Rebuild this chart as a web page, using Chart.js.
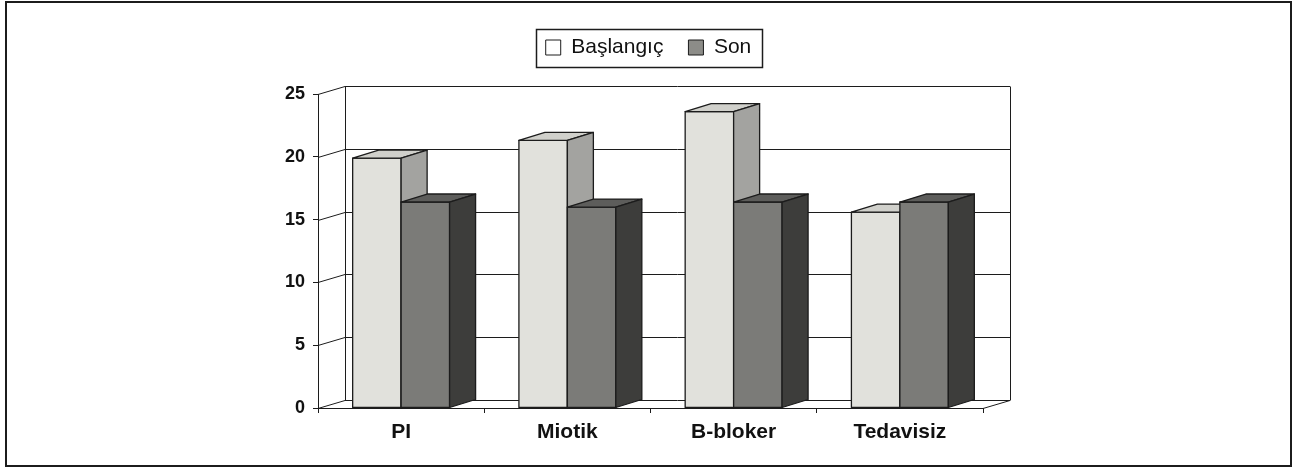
<!DOCTYPE html>
<html>
<head>
<meta charset="utf-8">
<script src="https://cdn.jsdelivr.net/npm/chart.js@4"></script>
<style>
  html, body { margin: 0; padding: 0; background: #fff; }
  #wrap { width: 1297px; height: 469px; }
</style>
</head>
<body>
<div id="wrap"><canvas id="chart" width="1297" height="469"></canvas></div>
<script>
var categories = ['PI', 'Miotik', 'B-bloker', 'Tedavisiz'];
var seriesNames = ['Başlangıç', 'Son'];
var baslangic = [19.9, 21.3, 23.6, 15.6];
var son = [16.4, 16.0, 16.4, 16.4];
var yTicks = [0, 5, 10, 15, 20, 25];

// face colours: front, top, side
var faces = [
    { front: '#e1e1dc', top: '#d0d0cb', side: '#a3a3a0' },
    { front: '#7b7b78', top: '#5d5d5b', side: '#3d3d3b' }
];
var WALL_DX = 27, WALL_DY = -8;
var BAR_DX = 26, BAR_DY = -8;
var LINE = '#1c1c1c';

var wallPlugin = {
    id: 'wall',
    beforeDatasetsDraw: function(chart) {
        var ctx = chart.ctx, a = chart.chartArea, y = chart.scales.y;
        ctx.save();
        ctx.strokeStyle = LINE;
        ctx.lineWidth = 1;
        yTicks.forEach(function(v) {
            var py = Math.round(y.getPixelForValue(v)) + 0.5;
            ctx.beginPath();
            ctx.moveTo(a.left, py);
            ctx.lineTo(a.left + WALL_DX, py + WALL_DY);
            ctx.lineTo(a.right + WALL_DX, py + WALL_DY);
            ctx.stroke();
        });
        var top = Math.round(y.getPixelForValue(25)) + 0.5 + WALL_DY;
        var bot = Math.round(y.getPixelForValue(0)) + 0.5 + WALL_DY;
        ctx.beginPath();
        ctx.moveTo(a.left + WALL_DX + 0.5, top);
        ctx.lineTo(a.left + WALL_DX + 0.5, bot);
        ctx.moveTo(a.right + WALL_DX + 0.5, top);
        ctx.lineTo(a.right + WALL_DX + 0.5, bot);
        ctx.moveTo(a.right, a.bottom + 0.5);
        ctx.lineTo(a.right + WALL_DX, bot);
        ctx.stroke();
        ctx.restore();
    }
};

function poly(ctx, pts, fill) {
    ctx.beginPath();
    ctx.moveTo(pts[0][0], pts[0][1]);
    for (var i = 1; i < pts.length; i++) ctx.lineTo(pts[i][0], pts[i][1]);
    ctx.closePath();
    ctx.fillStyle = fill;
    ctx.fill();
    ctx.stroke();
}

var boxPlugin = {
    id: 'box3d',
    afterDatasetsDraw: function(chart) {
        var ctx = chart.ctx;
        ctx.save();
        ctx.strokeStyle = LINE;
        ctx.lineWidth = 1.3;
        ctx.lineJoin = 'round';
        for (var i = 0; i < categories.length; i++) {
            for (var d = 0; d < chart.data.datasets.length; d++) {
                var bar = chart.getDatasetMeta(d).data[i];
                var p = bar.getProps(['x', 'y', 'base', 'width'], true);
                var l = p.x - p.width / 2, r = p.x + p.width / 2;
                var t = p.y, b = p.base;
                var f = faces[d];
                poly(ctx, [[l, t], [r, t], [r, b], [l, b]], f.front);
                poly(ctx, [[l, t], [l + BAR_DX, t + BAR_DY], [r + BAR_DX, t + BAR_DY], [r, t]], f.top);
                poly(ctx, [[r, t], [r + BAR_DX, t + BAR_DY], [r + BAR_DX, b + BAR_DY], [r, b]], f.side);
            }
        }
        ctx.restore();
    },
    afterDraw: function(chart) {
        var ctx = chart.ctx;
        ctx.save();
        ctx.strokeStyle = LINE;
        // legend frame
        var hb = chart.legend.legendHitBoxes;
        if (hb && hb.length) {
            var l = Math.min.apply(null, hb.map(function(h) { return h.left; }));
            var r = Math.max.apply(null, hb.map(function(h) { return h.left + h.width; }));
            var t = hb[0].top, h = hb[0].height;
            ctx.lineWidth = 1.5;
            ctx.strokeRect(Math.round(l - 10) + 0.5, Math.round(t - 8) + 0.5, Math.round(r - l + 20), Math.round(h + 17));
        }
        // outer frame
        ctx.lineWidth = 2;
        ctx.strokeRect(6, 2, 1285, 464);
        ctx.restore();
    }
};

var ctx = document.getElementById('chart');
var chart = new Chart(ctx, {
    type: 'bar',
    data: {
        labels: categories,
        datasets: [
            {
                label: seriesNames[0],
                data: baslangic,
                backgroundColor: faces[0].front,
                borderColor: LINE,
                borderWidth: 0,
                categoryPercentage: 0.583,
                barPercentage: 1.0
            },
            {
                label: seriesNames[1],
                data: son,
                backgroundColor: faces[1].front,
                borderColor: LINE,
                borderWidth: 0,
                categoryPercentage: 0.583,
                barPercentage: 1.0
            }
        ]
    },
    options: {
        responsive: false,
        animation: false,
        layout: { padding: { top: 12, left: 0, right: 0, bottom: 0 } },
        plugins: {
            tooltip: { enabled: false },
            legend: {
                position: 'top',
                labels: {
                    boxWidth: 15,
                    boxHeight: 15,
                    padding: 25,
                    color: '#111',
                    font: { family: "'Liberation Sans', Arial, sans-serif", size: 21 },
                    generateLabels: function(chart) {
                        var items = Chart.defaults.plugins.legend.labels.generateLabels(chart);
                        items[0].fillStyle = '#ffffff';
                        items[1].fillStyle = '#8c8c88';
                        items.forEach(function(it) { it.strokeStyle = LINE; it.lineWidth = 1; });
                        return items;
                    }
                }
            }
        },
        scales: {
            x: {
                position: 'bottom',
                grid: { display: true, drawOnChartArea: false, drawTicks: true, tickLength: 5, color: LINE, offset: true },
                border: { display: true, color: LINE, width: 1 },
                ticks: {
                    color: '#111',
                    padding: 7,
                    font: { family: "'Liberation Sans', Arial, sans-serif", size: 21, weight: 'bold' }
                },
                afterFit: function(s) { s.height = 61; }
            },
            xTop: {
                type: 'category',
                labels: categories,
                position: 'top',
                grid: { display: false },
                border: { display: false },
                ticks: { display: false },
                afterFit: function(s) { s.height = 26; }
            },
            y: {
                position: 'left',
                min: 0,
                max: 25,
                ticks: {
                    stepSize: 5,
                    color: '#111',
                    padding: 8,
                    font: { family: "'Liberation Sans', Arial, sans-serif", size: 18, weight: 'bold' }
                },
                grid: { display: true, drawOnChartArea: false, drawTicks: true, tickLength: 5, color: LINE },
                border: { display: true, color: LINE, width: 1 },
                afterFit: function(s) { s.width = 318; }
            },
            yRight: {
                type: 'linear',
                position: 'right',
                grid: { display: false },
                border: { display: false },
                ticks: { display: false },
                afterFit: function(s) { s.width = 314; }
            }
        }
    },
    plugins: [wallPlugin, boxPlugin]
});
</script>
</body>
</html>
